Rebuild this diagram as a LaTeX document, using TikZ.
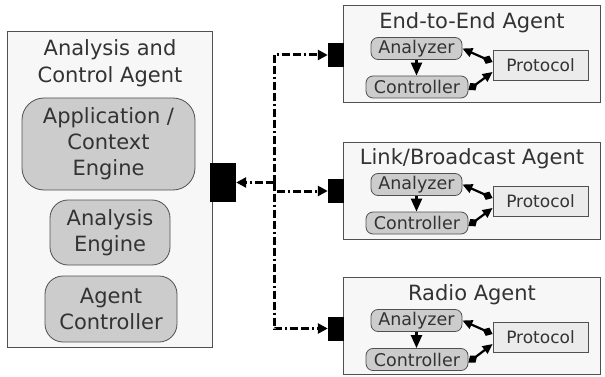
\documentclass[tikz,border=0pt]{standalone}
\usepackage{fontspec}
\setmainfont{DejaVu Sans}
\usetikzlibrary{arrows.meta, positioning}
\definecolor{boxline}{HTML}{505050}
\definecolor{txt}{HTML}{333333}

\begin{document}
\begin{tikzpicture}[
    x=1pt, y=-1pt,
    agent/.style={rectangle, draw=boxline, fill=black!3, line width=0.8pt, minimum width=257pt, minimum height=97pt},
    engine/.style={rectangle, rounded corners=22pt, draw=boxline, fill=black!20, line width=0.8pt, text=txt, align=center, font=\fontsize{21}{26}\selectfont},
    part/.style={rectangle, rounded corners=7pt, draw=boxline, fill=black!20, line width=0.8pt, text=txt, inner sep=0pt, minimum height=22pt, font=\fontsize{17.5}{20}\selectfont},
    proto/.style={rectangle, draw=boxline, fill=black!8, line width=0.8pt, text=txt, minimum width=95pt, minimum height=30pt, font=\fontsize{17}{20}\selectfont},
    port/.style={rectangle, fill=black, inner sep=0pt},
    title/.style={text=txt, align=center, font=\fontsize{21}{27}\selectfont},
    link/.style={line width=3pt, dash pattern=on 8pt off 3pt on 8pt off 3pt on 2pt off 3pt, -{Triangle[length=10pt,width=10pt]}},
    wire/.style={line width=2.2pt, black},
    down/.style={-{Triangle[length=13pt,width=11pt]}},
    aprot/.style={{Triangle[length=10pt,width=9pt]}-{Diamond[length=11pt,width=9pt]}},
    cprot/.style={{Diamond[length=11pt,width=9pt]}-{Triangle[length=10pt,width=9pt]}}
]
\useasboundingbox (0,0) rectangle (605,377);

% analysis and control agent
\node[agent, minimum width=205pt, minimum height=316pt] (aca) at (109.5,189) {};
\node[title] (acatitle) at (110,63) {Analysis and\\Control Agent};
\node[engine, minimum width=173pt, minimum height=92pt] (appeng) at (108.5,144) {Application /\\Context\\Engine};
\node[engine, rounded corners=18pt, minimum width=120pt, minimum height=65pt] (anaeng) at (110,232.5) {Analysis\\Engine};
\node[engine, rounded corners=18pt, minimum width=132pt, minimum height=66pt] (agctl) at (111,309) {Agent\\Controller};
\node[port, minimum width=26pt, minimum height=39pt] (acaport) at (223,182.5) {};

% end-to-end agent
\node[agent] (e2e) at (472,54) {};
\node[title] (e2etitle) at (472,23) {End-to-End Agent};
\node[part, minimum width=91pt] (ana1) at (416.5,48.5) {Analyzer};
\node[part, minimum width=102pt] (ctl1) at (417,87) {Controller};
\node[proto] (pro1) at (540.5,65) {Protocol};
\node[port, minimum width=16pt, minimum height=24pt] (port1) at (336,55) {};

% link/broadcast agent
\node[agent] (lba) at (472,190.5) {};
\node[title] (lbatitle) at (472,158.5) {Link/Broadcast Agent};
\node[part, minimum width=91pt] (ana2) at (416.5,184.5) {Analyzer};
\node[part, minimum width=102pt] (ctl2) at (417,223) {Controller};
\node[proto] (pro2) at (540.5,201) {Protocol};
\node[port, minimum width=16pt, minimum height=24pt] (port2) at (336,191) {};

% radio agent
\node[agent] (rad) at (472,326) {};
\node[title] (radtitle) at (472,295) {Radio Agent};
\node[part, minimum width=91pt] (ana3) at (416.5,320.5) {Analyzer};
\node[part, minimum width=102pt] (ctl3) at (417,359.5) {Controller};
\node[proto] (pro3) at (540.5,337) {Protocol};
\node[port, minimum width=16pt, minimum height=24pt] (port3) at (336,328.5) {};

% links
\coordinate (hub) at (274,182.5);
\draw[link] (hub) -- (acaport.east);
\draw[link] (hub) |- (port1.west);
\draw[link] (hub) |- (port2.west);
\draw[link] (hub) |- (port3.west);

% inner wires
\draw[wire, down] (ana1.south) -- (ana1.south |- ctl1.north);
\draw[wire, aprot] (ana1.east) -- ([yshift=3pt]pro1.west);
\draw[wire, cprot] ([yshift=-3pt]ctl1.east) -- ([yshift=-7pt]pro1.west);

\draw[wire, down] (ana2.south) -- (ana2.south |- ctl2.north);
\draw[wire, aprot] (ana2.east) -- ([yshift=3pt]pro2.west);
\draw[wire, cprot] ([yshift=-3pt]ctl2.east) -- ([yshift=-7pt]pro2.west);

\draw[wire, down] (ana3.south) -- (ana3.south |- ctl3.north);
\draw[wire, aprot] (ana3.east) -- ([yshift=3pt]pro3.west);
\draw[wire, cprot] ([yshift=-3pt]ctl3.east) -- ([yshift=-7pt]pro3.west);

\end{tikzpicture}
\end{document}
